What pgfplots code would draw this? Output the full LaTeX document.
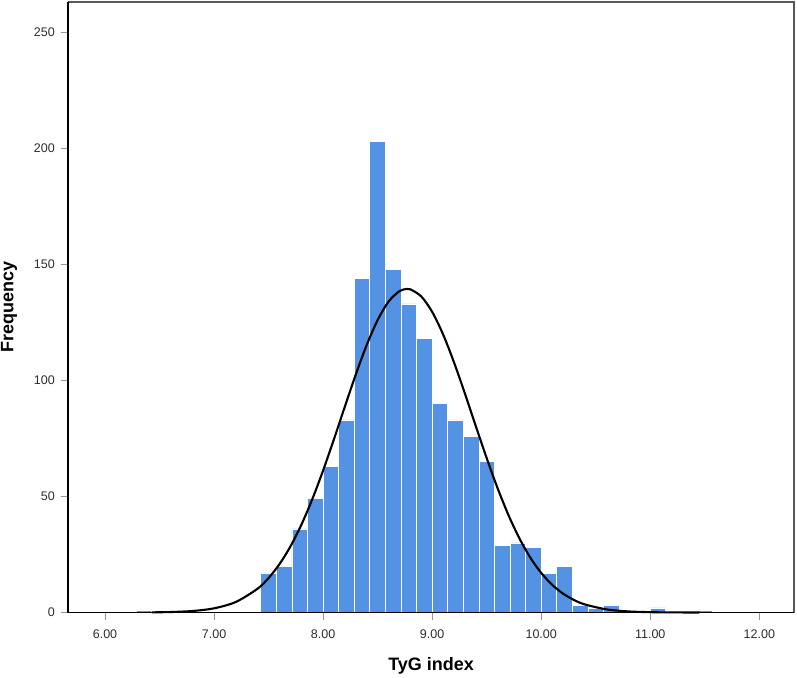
\documentclass[border=0pt]{standalone}
\usepackage{pgfplots}
\pgfplotsset{compat=1.18}
\usepackage{fontspec}
\setmainfont{Liberation Sans}
\definecolor{barblue}{RGB}{84,146,228}
\definecolor{tickgray}{RGB}{150,150,150}
\definecolor{labgray}{RGB}{45,45,45}
\begin{document}
\begin{tikzpicture}
\begin{axis}[
  name=ax,
  scale only axis,
  width=725.7pt, height=610.5pt,
  xmin=5.6635, xmax=12.318,
  ymin=0, ymax=263.2,
  axis line style={black!65, line width=1.4pt},
  xtick={6,7,8,9,10,11,12},
  ytick={0,50,100,150,200,250},
  tick pos=left,
  tick align=outside,
  major tick length=7.5pt,
  tick style={tickgray, line width=0.9pt},
  xticklabel style={/pgf/number format/fixed, /pgf/number format/precision=2, /pgf/number format/fixed zerofill, yshift=-6.5pt},
  yticklabel style={xshift=-2.5pt},
  /pgf/number format/assume math mode=true,
  ticklabel style={font=\fontsize{12.5}{14}\selectfont, text=labgray},
  clip=false,
]
\addplot[ybar, bar width=0.142857, bar shift=0pt, fill=barblue, draw=white, line width=0.7pt] coordinates {
(6.3571,1)
(7.5000,17) (7.6429,20) (7.7857,36) (7.9286,49)
(8.0714,63) (8.2143,83) (8.3571,144) (8.5000,203) (8.6429,148) (8.7857,133) (8.9286,118)
(9.0714,90) (9.2143,83) (9.3571,76) (9.5000,65) (9.6429,29) (9.7857,30) (9.9286,28)
(10.0714,17) (10.2143,20) (10.3571,3) (10.5000,2) (10.6429,3) (10.7857,1) (10.9286,1)
(11.0714,2) (11.5000,1)
};
\addplot[black, line width=2.1pt, smooth] coordinates {
(6.43,0.069) (6.60,0.20) (6.80,0.64) (7.00,1.80)
(7.20,4.55) (7.40,10.29) (7.50,14.86) (7.60,20.84) (7.70,28.44) (7.80,37.76) (7.90,48.75)
(8.00,61.23) (8.10,74.79) (8.20,88.83) (8.30,102.65) (8.40,115.35) (8.50,126.07)
(8.60,134.02) (8.70,138.55) (8.77,139.5) (8.80,139.33) (8.90,136.27) (9.00,129.62)
(9.10,119.92) (9.20,107.90) (9.30,94.44) (9.40,80.38) (9.50,66.56) (9.60,53.58)
(9.70,41.96) (9.80,31.96) (9.90,23.67) (10.00,17.06) (10.10,11.96) (10.20,8.15)
(10.30,5.40) (10.40,3.48) (10.60,1.33) (10.80,0.456) (11.00,0.140) (11.20,0.038) (11.45,0.0065)
};
\draw[black, line width=1.6pt] (rel axis cs:0,1) -- (rel axis cs:0,0) -- (rel axis cs:1,0);
\end{axis}
\node[font=\fontsize{18}{20}\selectfont\bfseries] at ([yshift=-53.5pt]ax.south) {TyG index};
\node[rotate=90, font=\fontsize{18}{20}\selectfont\bfseries] at ([xshift=-59.3pt]ax.west) {Frequency};
\pgfresetboundingbox
\path ([xshift=-68.3pt,yshift=-65.5pt]ax.south west) rectangle ([xshift=3pt,yshift=2pt]ax.north east);
\end{tikzpicture}
\end{document}
